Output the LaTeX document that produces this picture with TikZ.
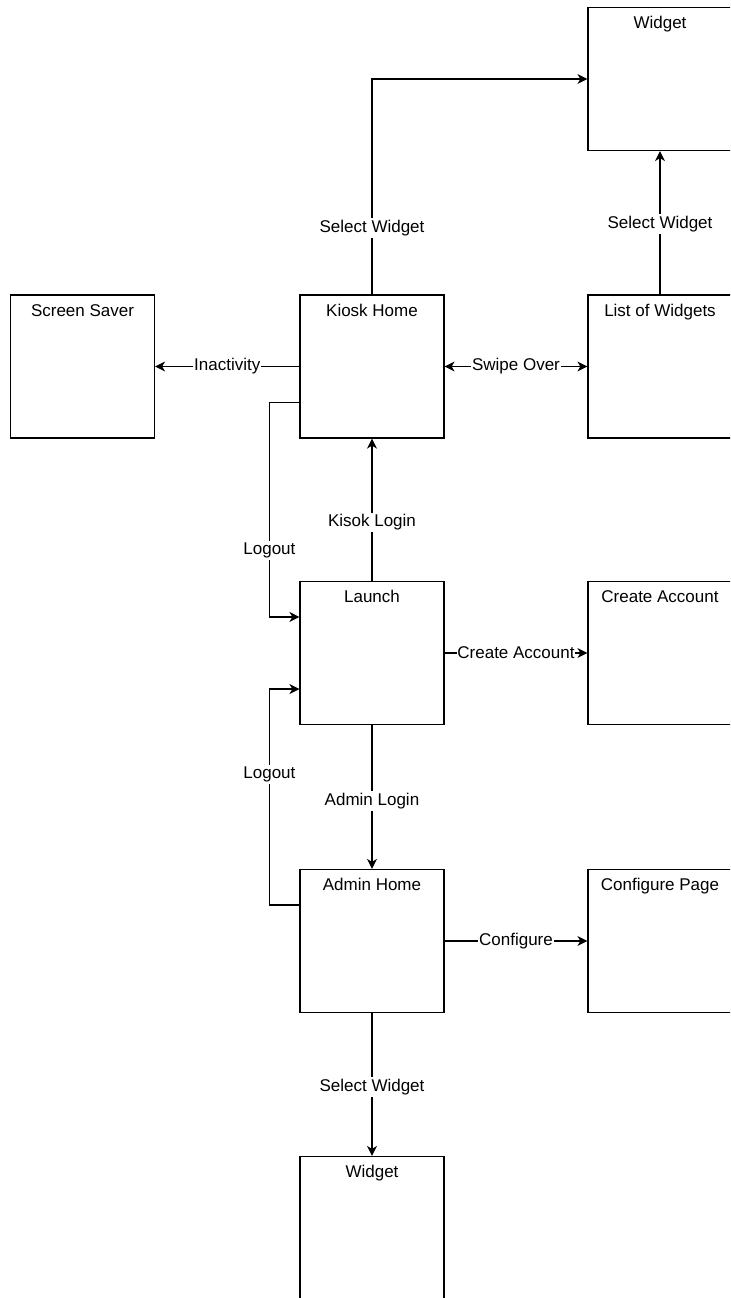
\documentclass[tikz,border=0pt]{standalone}
\usepackage{fontspec}
\setmainfont{Liberation Sans}
\usetikzlibrary{arrows.meta,calc}
\tikzset{
	screennode/.style={rectangle, draw=black, line width=0.6pt, minimum width=72pt, minimum height=71.5pt, inner ysep=0pt, text height=10.5pt, text depth=61pt, font=\fontsize{8.5}{10}\selectfont},
	flowlabel/.style={fill=white, inner xsep=0.4pt, inner ysep=1pt, font=\fontsize{8.5}{10}\selectfont},
	flowarrow/.style={line width=0.6pt, -{Stealth[length=5pt,width=5pt,inset=1.5pt]}},
	flowboth/.style={line width=0.6pt, {Stealth[length=5pt,width=5pt,inset=1.5pt]}-{Stealth[length=5pt,width=5pt,inset=1.5pt]}}
}

\begin{document}
\begin{tikzpicture}[x=0.5pt,y=-0.5pt]
			\useasboundingbox (0,0) rectangle (730,1298);
			\clip (0,0) rectangle (730,1298);

			\node[screennode] (widgetA) at (660,79) {Widget};
			\node[screennode] (saver) at (82.5,366.5) {Screen Saver};
			\node[screennode] (kiosk) at (372,366.5) {Kiosk Home};
			\node[screennode] (list) at (660,366.5) {List of Widgets};
			\node[screennode] (launch) at (372,653) {Launch};
			\node[screennode] (create) at (660,653) {Create Account};
			\node[screennode] (admin) at (372,941) {Admin Home};
			\node[screennode] (config) at (660,941) {Configure Page};
			\node[screennode] (widgetB) at (372,1228) {Widget};

			\draw[flowarrow] (kiosk.north) |- node[flowlabel,pos=0.155] (selKiosk) {Select Widget} (widgetA.west);
			\draw[flowarrow] (list.north) -- node[flowlabel,pos=0.49] (selList) {Select Widget} (widgetA.south);
			\draw[flowarrow] (kiosk.west) -- node[flowlabel] (inact) {Inactivity} (saver.east);
			\draw[flowboth] (kiosk.east) -- node[flowlabel] (swipe) {Swipe Over} (list.west);
			\draw[flowarrow] (launch.north) -- node[flowlabel,pos=0.41] (kLogin) {Kisok Login} (kiosk.south);
			\draw[flowarrow] ($(kiosk.south west)!0.25!(kiosk.north west)$) -- ++(-30,0) |- node[flowlabel,pos=0.345] (outKiosk) {Logout} ($(launch.north west)!0.25!(launch.south west)$);
			\draw[flowarrow] ($(admin.north west)!0.25!(admin.south west)$) -- ++(-30,0) |- node[flowlabel,pos=0.303] (outAdmin) {Logout} ($(launch.south west)!0.25!(launch.north west)$);
			\draw[flowarrow] (launch.east) -- node[flowlabel] (mkAcc) {Create Account} (create.west);
			\draw[flowarrow] (launch.south) -- node[flowlabel,pos=0.53] (aLogin) {Admin Login} (admin.north);
			\draw[flowarrow] (admin.east) -- node[flowlabel] (conf) {Configure} (config.west);
			\draw[flowarrow] (admin.south) -- node[flowlabel,pos=0.52] (selAdmin) {Select Widget} (widgetB.north);
		\end{tikzpicture}
\end{document}
